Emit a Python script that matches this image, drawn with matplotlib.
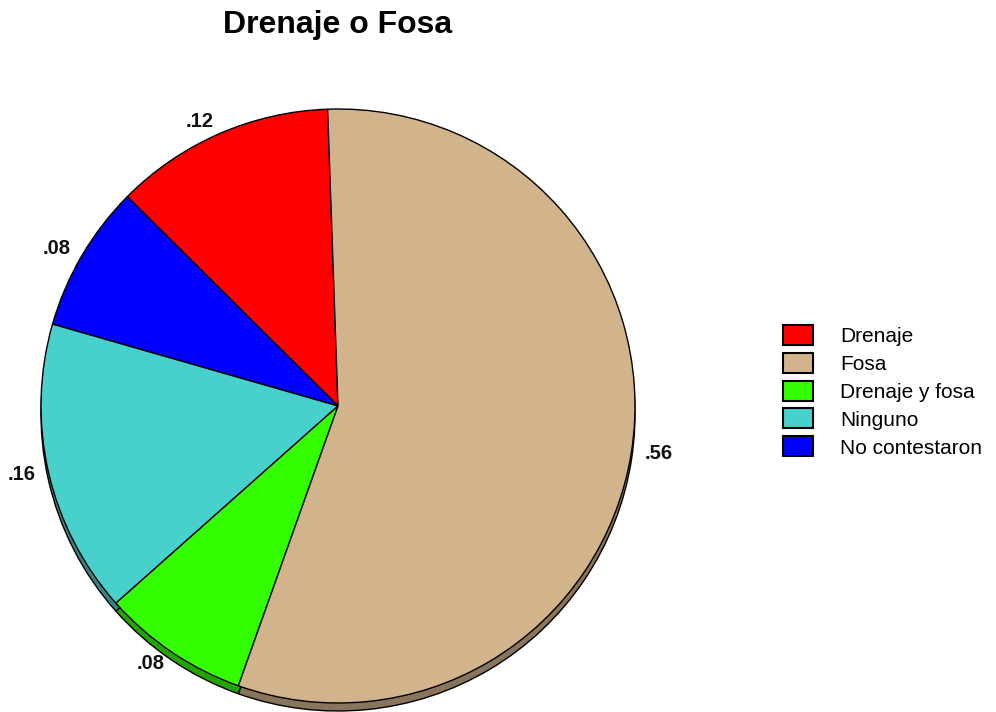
import matplotlib
matplotlib.use("Agg")
import matplotlib.pyplot as plt
from matplotlib.patches import Patch
from matplotlib.colors import to_rgb

plt.rcParams["font.family"] = ["Liberation Sans", "DejaVu Sans"]

# ---- data ----
categories = ["Drenaje", "No contestaron", "Ninguno", "Drenaje y fosa", "Fosa"]
shares = [0.12, 0.08, 0.16, 0.08, 0.56]
colors = ["#FF0000", "#0000FF", "#48D1CC", "#33FF00", "#D2B48C"]
legend_order = ["Drenaje", "Fosa", "Drenaje y fosa", "Ninguno", "No contestaron"]
title = "Drenaje o Fosa"

# ---- layout (axes in pixel units) ----
W, H = 996, 712
fig = plt.figure(figsize=(W / 100, H / 100), dpi=100)
ax = fig.add_axes([0, 0, 1, 1])

cx, cy = 338, H - 406
radius = 297
depth = 8
start = 92

shadow = [tuple(c * 0.65 for c in to_rgb(col)) for col in colors]

# side of the disc (darker copy shifted down)
ax.pie(shares, colors=shadow, startangle=start, radius=radius,
       center=(cx, cy - depth),
       wedgeprops=dict(edgecolor="black", linewidth=1.0))

# top face with value labels
labels = [f"{v:.2f}".lstrip("0") for v in shares]
wedges, texts = ax.pie(shares, colors=colors, startangle=start, radius=radius,
                       center=(cx, cy), labels=labels, labeldistance=1.045,
                       wedgeprops=dict(edgecolor="black", linewidth=1.0),
                       textprops=dict(fontsize=14.5, color="#111111",
                                      fontweight="bold"))

# pie picks alignment from absolute x; flip the ones left of the centre
for t in texts:
    x, _ = t.get_position()
    t.set_ha("right" if x < cx else "left")

ax.set_xlim(0, W)
ax.set_ylim(0, H)
ax.set_aspect("equal")
ax.axis("off")

# title
ax.text(cx, H - 33, title, ha="center", va="baseline", fontsize=23,
        fontweight="bold")

# legend
lookup = dict(zip(categories, colors))
handles = [Patch(facecolor=lookup[c], edgecolor="black", linewidth=1.5, label=c)
           for c in legend_order]
ax.legend(handles=handles, loc="upper left", bbox_to_anchor=(768 / W, 1 - 310 / H),
          frameon=False, fontsize=15, handlelength=1.45, handleheight=1.1,
          handletextpad=1.3, labelspacing=0.33, borderpad=0.2)

fig.savefig("out.png", dpi=100, facecolor="white")
